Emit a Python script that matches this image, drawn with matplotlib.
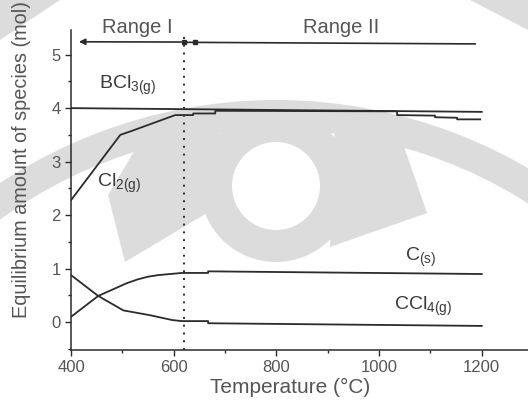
import matplotlib
matplotlib.use("Agg")
import matplotlib.pyplot as plt
from matplotlib.patches import Wedge, Polygon
from matplotlib.ticker import MultipleLocator

plt.rcParams['font.family'] = ['Liberation Sans', 'DejaVu Sans']
plt.rcParams['mathtext.fontset'] = 'custom'
plt.rcParams['mathtext.rm'] = 'Liberation Sans'
plt.rcParams['mathtext.it'] = 'Liberation Sans'

# equilibrium amounts (mol) against temperature (degC)
t_bcl3 = [400, 1200]
bcl3 = [4.00, 3.93]

t_cl2 = [400, 496, 520, 540, 560, 580, 603, 638, 638, 681, 681, 1035, 1035, 1109, 1109, 1152, 1152, 1197]
cl2 = [2.28, 3.50, 3.58, 3.65, 3.72, 3.79, 3.87, 3.87, 3.90, 3.90, 3.95, 3.94, 3.87, 3.86, 3.83, 3.82, 3.79, 3.79]

t_c = [400, 453, 509, 530, 550, 570, 593, 616, 667, 667, 1200]
c_s = [0.10, 0.49, 0.73, 0.80, 0.85, 0.88, 0.90, 0.92, 0.92, 0.95, 0.90]

t_ccl4 = [400, 453, 502, 554, 597, 616, 667, 667, 1200]
ccl4 = [0.88, 0.49, 0.22, 0.13, 0.04, 0.02, 0.02, -0.02, -0.07]

t_split = 620
range_labels = ["Range I", "Range II"]

ink = "#2b2b2b"
grey = "#dcdcdc"
txt = "#555555"

fig = plt.figure(figsize=(5.28, 4.0), dpi=100)

# faint watermark behind the plot, drawn in pixel units
bg = fig.add_axes([0, 0, 1, 1], zorder=-1)
bg.set_xlim(0, 528)
bg.set_ylim(400, 0)
bg.axis("off")
bg.add_patch(Wedge((276, 186), 76, 0, 360, width=32, color=grey, lw=0))
bg.add_patch(Polygon([(150, 125), (222, 118), (212, 210), (125, 262), (108, 195)], color=grey, lw=0))
bg.add_patch(Polygon([(335, 118), (400, 135), (427, 213), (330, 247)], color=grey, lw=0))
bg.add_patch(Wedge((276, -380), 460, 205, 335, width=35, color=grey, lw=0))
bg.add_patch(Wedge((276, 600), 500, 228, 312, width=30, color=grey, lw=0))
bg.add_patch(Wedge((276, 600), 500, 190, 226, width=30, color=grey, lw=0))
bg.add_patch(Wedge((276, 600), 500, 314, 350, width=30, color=grey, lw=0))
bg.add_patch(Polygon([(0, 0), (60, 0), (0, 40)], color=grey, lw=0))
bg.add_patch(Polygon([(528, 0), (470, 0), (528, 30)], color=grey, lw=0))

ax = fig.add_axes([71 / 528, 50 / 400, 457 / 528, 320 / 400])
ax.patch.set_alpha(0)

ax.plot(t_bcl3, bcl3, color=ink, lw=1.3)
ax.plot(t_cl2, cl2, color=ink, lw=1.3)
ax.plot(t_c, c_s, color=ink, lw=1.3)
ax.plot(t_ccl4, ccl4, color=ink, lw=1.3)

# boundary between the two ranges
ax.plot([t_split, t_split], [-0.52, 5.42], color=ink, lw=1.4, ls=(0, (1, 3)))
ax.annotate("", xy=(410, 5.24), xytext=(t_split, 5.235),
            arrowprops=dict(arrowstyle="-|>", color=ink, lw=1.2, mutation_scale=9))
ax.plot([t_split, 1187], [5.23, 5.20], color=ink, lw=1.2)
ax.plot([t_split, 641], [5.235, 5.233], color=ink, lw=0, marker="s", ms=3)

ax.text(530, 5.50, range_labels[0], ha="center", va="center", fontsize=14.5, color=txt, clip_on=False)
ax.text(927, 5.50, range_labels[1], ha="center", va="center", fontsize=14.5, color=txt, clip_on=False)

lab = dict(fontsize=14, color="#3a3a3a", va="center", ha="left")
ax.text(455, 4.43, r"$\mathregular{BCl_{3(g)}}$", **lab)
ax.text(450, 2.60, r"$\mathregular{Cl_{2(g)}}$", **lab)
ax.text(1050, 1.21, r"$\mathregular{C_{(s)}}$", **lab)
ax.text(1030, 0.30, r"$\mathregular{CCl_{4(g)}}$", **lab)

ax.set_xlim(400, 1290)
ax.set_ylim(-0.52, 5.46)
ax.xaxis.set_major_locator(MultipleLocator(200))
ax.xaxis.set_minor_locator(MultipleLocator(100))
ax.yaxis.set_major_locator(MultipleLocator(1))
ax.yaxis.set_minor_locator(MultipleLocator(0.5))
for side in ("top", "right"):
    ax.spines[side].set_visible(False)
for side in ("left", "bottom"):
    ax.spines[side].set_color(ink)
    ax.spines[side].set_linewidth(1.1)
ax.tick_params(which="major", direction="out", length=4, width=1, color=ink,
               labelsize=12, labelcolor=txt)
ax.tick_params(which="minor", direction="out", length=2.5, width=1, color=ink)

fig.text(290 / 528, 1 - 387 / 400, "Temperature (\u00b0C)", ha="center", va="center",
         fontsize=15, color=txt)
fig.text(22 / 528, 1 - 159 / 400, "Equilibrium amount of species (mol)", rotation=90,
         ha="center", va="center", fontsize=14.3, color=txt)

fig.savefig("out.png", dpi=100)
